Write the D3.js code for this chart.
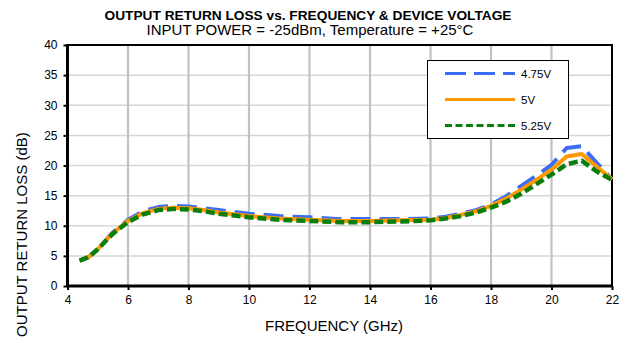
<!DOCTYPE html>
<html>
<head>
<meta charset="utf-8">
<script src="https://cdn.jsdelivr.net/npm/d3@7"></script>
<style>
  html, body { margin: 0; padding: 0; background: #fff; }
  svg { display: block; font-family: Arial, "Liberation Sans", sans-serif; }
</style>
</head>
<body>
<svg id="chart" width="624" height="341"></svg>
<script>
// Frequency sweep points (GHz)
const freqs = [4.4, 4.7, 5, 5.5, 6, 6.5, 7, 7.5, 8, 8.5, 9, 9.5, 10, 11, 12, 13, 14, 15, 16, 16.5, 17, 17.5, 18, 18.5, 19, 19.5, 20, 20.5, 21, 21.5, 22];
// Output return loss (dB) for each supply voltage
const rl475 = [4.2, 4.8, 6.1, 8.9, 11.0, 12.4, 13.1, 13.3, 13.2, 12.9, 12.6, 12.3, 12.0, 11.6, 11.4, 11.1, 11.1, 11.1, 11.2, 11.5, 12.0, 12.6, 13.5, 14.9, 16.6, 18.3, 20.1, 22.9, 23.2, 20.4, 17.7];
const rl500 = [4.2, 4.8, 6.1, 8.8, 10.8, 12.1, 12.8, 13.0, 12.9, 12.6, 12.2, 11.9, 11.6, 11.2, 11.0, 10.8, 10.8, 10.9, 11.0, 11.3, 11.8, 12.4, 13.3, 14.5, 16.0, 17.6, 19.3, 21.5, 21.9, 19.8, 17.7];
const rl525 = [4.2, 4.8, 6.1, 8.7, 10.6, 11.9, 12.6, 12.8, 12.7, 12.4, 12.0, 11.7, 11.4, 11.0, 10.8, 10.6, 10.6, 10.7, 10.9, 11.2, 11.6, 12.2, 13.0, 14.0, 15.3, 16.9, 18.5, 20.2, 20.8, 19.0, 17.6];
const seriesNames = ["4.75V", "5V", "5.25V"];
const xTicks = [4, 6, 8, 10, 12, 14, 16, 18, 20, 22];
const yTicks = [0, 5, 10, 15, 20, 25, 30, 35, 40];

const styles = [
  { color: "#3d6cf5", width: 4, dash: "20,9", legendDash: "21,8", legendWidth: 3 },
  { color: "#ff9900", width: 4, dash: null, legendDash: null, legendWidth: 3 },
  { color: "#0b7d0b", width: 4.5, dash: "9,4", legendDash: "7,3.5", legendWidth: 3 }
];
const allSeries = [rl475, rl500, rl525];

const svg = d3.select("#chart");
const m = { left: 67.5, right: 12, top: 45, bottom: 55 };
const W = 624, H = 341;
const x = d3.scaleLinear().domain([4, 22]).range([m.left, W - m.right]);
const y = d3.scaleLinear().domain([0, 40]).range([H - m.bottom, m.top]);

// Gridlines
svg.append("g").selectAll("line").data(yTicks.slice(1, -1)).join("line")
  .attr("x1", x(4)).attr("x2", x(22))
  .attr("y1", d => y(d)).attr("y2", d => y(d))
  .attr("stroke", "#d6d6d6").attr("stroke-width", 1.5);
svg.append("g").selectAll("line").data(xTicks.slice(1, -1)).join("line")
  .attr("y1", y(0)).attr("y2", y(40))
  .attr("x1", d => x(d)).attr("x2", d => x(d))
  .attr("stroke", "#c2c2c2").attr("stroke-width", 2.2);

// Axes
const xAxis = svg.append("g").attr("transform", `translate(0,${y(0)})`)
  .call(d3.axisBottom(x).tickValues(xTicks).tickSize(4).tickSizeOuter(0).tickPadding(5));
const yAxis = svg.append("g").attr("transform", `translate(${x(4)},0)`)
  .call(d3.axisLeft(y).tickValues(yTicks).tickSize(4).tickSizeOuter(0).tickPadding(6));
[xAxis, yAxis].forEach(a => {
  a.select(".domain").remove();
  a.selectAll(".tick line").attr("stroke", "#000").attr("stroke-width", 2);
  a.selectAll(".tick text").attr("font-size", 12).attr("fill", "#000")
    .attr("font-family", "Arial, 'Liberation Sans', sans-serif");
});

// Plot frame
svg.append("rect")
  .attr("x", x(4)).attr("y", y(40))
  .attr("width", x(22) - x(4)).attr("height", y(0) - y(40))
  .attr("fill", "none").attr("stroke", "#000").attr("stroke-width", 2);
svg.append("line").attr("x1", x(4) - 1).attr("x2", x(22) + 1)
  .attr("y1", y(0)).attr("y2", y(0)).attr("stroke", "#000").attr("stroke-width", 3);
svg.append("line").attr("x1", x(4)).attr("x2", x(4))
  .attr("y1", y(40) - 1).attr("y2", y(0) + 1).attr("stroke", "#000").attr("stroke-width", 3);

// Data lines
const line = d3.line().x((d, i) => x(freqs[i])).y(d => y(d));
allSeries.forEach((s, k) => {
  const st = styles[k];
  svg.append("path").datum(s)
    .attr("d", line)
    .attr("fill", "none")
    .attr("stroke", st.color)
    .attr("stroke-width", st.width)
    .attr("stroke-linejoin", "round")
    .attr("stroke-dasharray", st.dash);
});

// Legend
const lg = svg.append("g");
lg.append("rect").attr("x", 427.5).attr("y", 60.5).attr("width", 141).attr("height", 78)
  .attr("fill", "#fff").attr("stroke", "#000").attr("stroke-width", 1);
seriesNames.forEach((name, k) => {
  const st = styles[k];
  const yy = 73.5 + k * 26;
  lg.append("line").attr("x1", 445).attr("x2", 515).attr("y1", yy).attr("y2", yy)
    .attr("stroke", st.color).attr("stroke-width", st.legendWidth)
    .attr("stroke-dasharray", st.legendDash);
  lg.append("text").attr("x", 521).attr("y", yy + 4).attr("font-size", 11.5)
    .text(name);
});

// Titles
svg.append("text").attr("x", 308).attr("y", 19.5).attr("text-anchor", "middle")
  .attr("font-size", 13.7).attr("font-weight", "bold")
  .text("OUTPUT RETURN LOSS vs. FREQUENCY & DEVICE VOLTAGE");
svg.append("text").attr("x", 310).attr("y", 35).attr("text-anchor", "middle")
  .attr("font-size", 15)
  .text("INPUT POWER = -25dBm, Temperature = +25°C");
svg.append("text").attr("x", 334).attr("y", 331).attr("text-anchor", "middle")
  .attr("font-size", 15)
  .text("FREQUENCY (GHz)");
svg.append("text").attr("transform", "translate(27,337) rotate(-90)")
  .attr("text-anchor", "start").attr("font-size", 15)
  .text("OUTPUT RETURN LOSS (dB)");
</script>
</body>
</html>
